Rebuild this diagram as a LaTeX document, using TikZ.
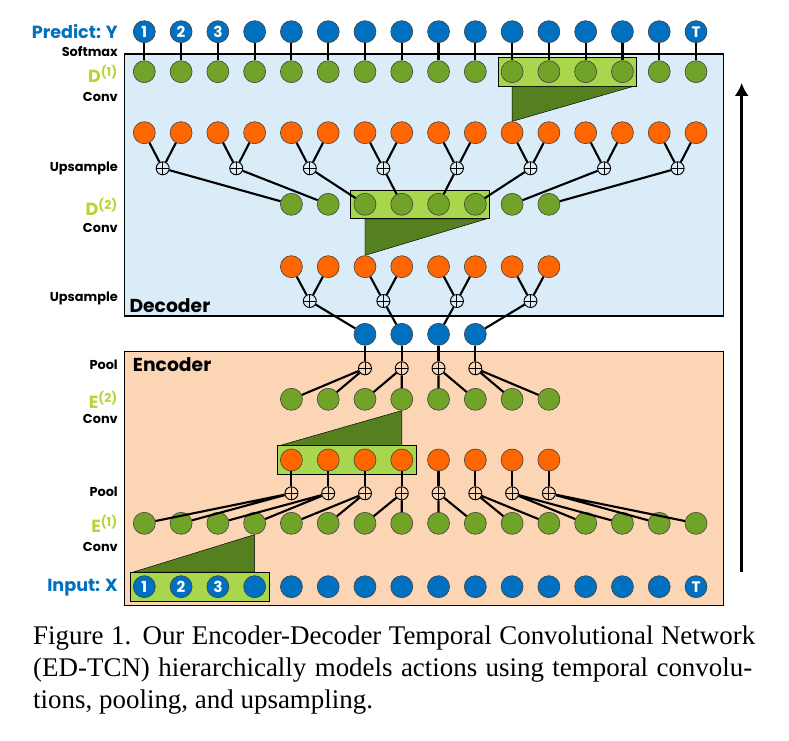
\documentclass[tikz,border=0pt]{standalone}
\usepackage{fontspec}
\usepackage{tikz}
\usetikzlibrary{fit, backgrounds, arrows.meta, calc}
\newfontfamily\gothic{Poppins}
\newfontfamily\capserif{Liberation Serif}
\definecolor{nodeblue}{RGB}{0,112,192}
\definecolor{nodegreen}{RGB}{112,163,40}
\definecolor{nodeorange}{RGB}{255,102,0}
\definecolor{boxgreen}{RGB}{168,214,76}
\definecolor{wedgegreen}{RGB}{84,128,32}
\definecolor{decbg}{RGB}{218,236,248}
\definecolor{encbg}{RGB}{252,213,181}
\definecolor{lblgreen}{RGB}{182,212,50}

\begin{document}
\begin{tikzpicture}[x=0.03cm, y=-0.03cm]
      \tikzset{ bnode/.style  ={draw=black!75, line width=0.5pt, circle, minimum size=0.66cm, inner sep=0pt, fill=nodeblue, text=white, font=\gothic\bfseries\fontsize{13}{13}\selectfont} }
      \tikzset{ gnode/.style  ={draw=black!75, line width=0.5pt, circle, minimum size=0.66cm, inner sep=0pt, fill=nodegreen} }
      \tikzset{ onode/.style  ={draw=black!75, line width=0.5pt, circle, minimum size=0.66cm, inner sep=0pt, fill=nodeorange} }
      \tikzset{ sumnode/.style={draw=black,    line width=0.8pt, circle, minimum size=0.39cm, inner sep=0pt, path picture={\draw[line width=0.8pt] (path picture bounding box.north) -- (path picture bounding box.south) (path picture bounding box.west) -- (path picture bounding box.east);}} }
      \tikzset{ wire/.style   ={draw=black, line width=1.8pt} }
      \tikzset{ convbox/.style={draw=black, line width=0.6pt, fill=boxgreen, inner sep=2.5pt} }
      \tikzset{ wedge/.style  ={draw=black, line width=0.4pt, fill=wedgegreen} }
      \tikzset{ rowlbl/.style ={anchor=east, inner sep=0pt, text=black, font=\gothic\bfseries\fontsize{11}{12}\selectfont} }
      \tikzset{ biglbl/.style ={anchor=east, inner sep=0pt, font=\gothic\bfseries\fontsize{15}{16}\selectfont} }
      \tikzset{ boxlbl/.style ={anchor=west, inner sep=0pt, text=black, font=\gothic\bfseries\fontsize{16}{17}\selectfont} }
      \tikzset{ capline/.style={anchor=base west, inner sep=0pt, font=\capserif\fontsize{23}{27}\selectfont} }

      \useasboundingbox (0,0) rectangle (789,741);

      % full-length rows
      \foreach \i/\t in {0/1, 1/2, 2/3, 15/T} {
        \pgfmathsetmacro\xx{144.3+36.78*\i}
        \node[bnode] (y\i) at (\xx, 31.7) {\t};
        \node[bnode] (x\i) at (\xx,586.7) {\t};
      }
      \foreach \i in {3,...,14} {
        \pgfmathsetmacro\xx{144.3+36.78*\i}
        \node[bnode] (y\i) at (\xx, 31.7) {};
        \node[bnode] (x\i) at (\xx,586.7) {};
      }
      \foreach \i in {0,...,15} {
        \pgfmathsetmacro\xx{144.3+36.78*\i}
        \node[gnode] (dA\i) at (\xx, 71.7) {};
        \node[onode] (oA\i) at (\xx,132.7) {};
        \node[gnode] (eA\i) at (\xx,523.3) {};
      }
      % half rows
      \foreach \i in {4,...,11} {
        \pgfmathsetmacro\xx{144.3+36.78*\i}
        \node[gnode]   (dB\i) at (\xx,204.3) {};
        \node[onode]   (oB\i) at (\xx,266.7) {};
        \node[gnode]   (eB\i) at (\xx,399.3) {};
        \node[onode]   (oC\i) at (\xx,460.0) {};
        \node[sumnode] (pA\i) at (\xx,493.3) {};
      }
      \foreach \i in {6,...,9} {
        \pgfmathsetmacro\xx{144.3+36.78*\i}
        \node[bnode]   (m\i)  at (\xx,334.3) {};
        \node[sumnode] (pB\i) at (\xx,368.3) {};
      }
      % upsampling sums
      \foreach \k in {0,...,7} {
        \pgfmathsetmacro\xx{144.3+36.78*(2*\k+0.5)}
        \node[sumnode] (uA\k) at (\xx,168.3) {};
      }
      \foreach \k in {0,...,3} {
        \pgfmathsetmacro\xx{144.3+36.78*(2*\k+4.5)}
        \node[sumnode] (uB\k) at (\xx,301.0) {};
      }

      % connections
      \foreach \i in {0,...,15} \draw[wire] (y\i) -- (dA\i);
      \foreach \k in {0,...,7} {
        \pgfmathtruncatemacro\a{2*\k}
        \pgfmathtruncatemacro\b{2*\k+1}
        \pgfmathtruncatemacro\c{\k+4}
        \draw[wire] (oA\a) -- (uA\k) -- (oA\b);
        \draw[wire] (uA\k) -- (dB\c);
      }
      \foreach \k in {0,...,3} {
        \pgfmathtruncatemacro\a{2*\k+4}
        \pgfmathtruncatemacro\b{2*\k+5}
        \pgfmathtruncatemacro\c{\k+6}
        \draw[wire] (oB\a) -- (uB\k) -- (oB\b);
        \draw[wire] (uB\k) -- (m\c);
      }
      \foreach \i in {6,...,9} {
        \pgfmathtruncatemacro\a{2*\i-8}
        \pgfmathtruncatemacro\b{2*\i-7}
        \draw[wire] (m\i) -- (pB\i);
        \draw[wire] (eB\a) -- (pB\i) -- (eB\b);
      }
      \foreach \i in {4,...,11} {
        \pgfmathtruncatemacro\a{2*\i-8}
        \pgfmathtruncatemacro\b{2*\i-7}
        \draw[wire] (oC\i) -- (pA\i);
        \draw[wire] (eA\a) -- (pA\i) -- (eA\b);
      }

      % panels, conv windows
      \begin{scope}[on background layer]
        \draw[line width=0.9pt, fill=decbg] (124.3, 54.0) rectangle (723.3,316.0);
        \draw[line width=0.9pt, fill=encbg] (124.3,351.7) rectangle (723.3,605.3);
        \node[convbox, fit=(dA10)(dA13)] (winA) {};
        \node[convbox, fit=(dB6)(dB9)]   (winB) {};
        \node[convbox, fit=(oC4)(oC7)]   (winC) {};
        \node[convbox, fit=(x0)(x3)]     (winX) {};
        \fill[wedge] (winA.south -| dA10) -- (winA.south -| dA13.east) -- (oA10.north) -- cycle;
        \fill[wedge] (winB.south -| dB6)  -- (winB.south -| dB9.east)  -- (oB6.north)  -- cycle;
        \fill[wedge] (winC.north -| oC4.west) -- (winC.north -| eB7) -- (eB7.south) -- cycle;
        \fill[wedge] (winX.north -| x0.west)  -- (winX.north -| eA3) -- (eA3.south) -- cycle;
      \end{scope}

      % row labels
      \node[biglbl, text=nodeblue] (lY)    at (118, 31.7) {Predict: Y};
      \node[rowlbl]                (lSm)   at (118, 51.7) {Softmax};
      \node[biglbl, text=lblgreen] (lDA)   at (118, 74.0) {D\textsuperscript{(1)}};
      \node[rowlbl]                (lCvA)  at (118, 96.7) {Conv};
      \node[rowlbl]                (lUpA)  at (118,168.3) {Upsample};
      \node[biglbl, text=lblgreen] (lDB)   at (118,207.0) {D\textsuperscript{(2)}};
      \node[rowlbl]                (lCvB)  at (118,228.3) {Conv};
      \node[rowlbl]                (lUpB)  at (118,298.3) {Upsample};
      \node[rowlbl]                (lPlB)  at (118,365.0) {Pool};
      \node[biglbl, text=lblgreen] (lEB)   at (118,400.0) {E\textsuperscript{(2)}};
      \node[rowlbl]                (lCvC)  at (118,419.3) {Conv};
      \node[rowlbl]                (lPlA)  at (118,491.7) {Pool};
      \node[biglbl, text=lblgreen] (lEA)   at (118,524.0) {E\textsuperscript{(1)}};
      \node[rowlbl]                (lCvD)  at (118,546.7) {Conv};
      \node[biglbl, text=nodeblue] (lX)    at (118,587.3) {Input: X};
      \node[boxlbl] (lDec) at (129.3,306.0) {Decoder};
      \node[boxlbl] (lEnc) at (132.7,365.0) {Encoder};

      % direction
      \coordinate (arrtail) at (741.7,572.0);
      \coordinate (arrtip)  at (741.7, 83.0);
      \draw[->, >={Latex[length=11pt, width=12pt]}, line width=3pt] (arrtail) -- (arrtip);

      % caption
      \node[capline] (capA) at (33,644) {\makebox[21.66cm][s]{Figure 1. Our Encoder-Decoder Temporal Convolutional Network}};
      \node[capline] (capB) at (33,676) {\makebox[21.57cm][s]{(ED-TCN) hierarchically models actions using temporal convolu-}};
      \node[capline] (capC) at (33,708) {tions, pooling, and upsampling.};
\end{tikzpicture}
\end{document}
